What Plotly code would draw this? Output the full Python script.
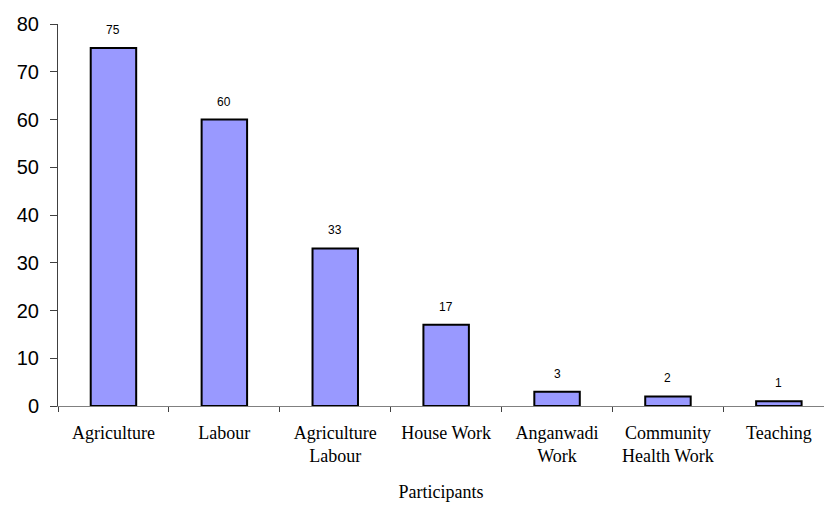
import plotly.graph_objects as go

categories = ["Agriculture", "Labour", "Agriculture<br>Labour", "House Work",
              "Anganwadi<br>Work", "Community<br>Health Work", "Teaching"]
values = [75, 60, 33, 17, 3, 2, 1]
y_ticks = [0, 10, 20, 30, 40, 50, 60, 70, 80]

fig = go.Figure()
fig.add_trace(go.Bar(
    x=categories, y=values,
    marker=dict(color="#9999FF", line=dict(color="black", width=2)),
    width=0.41,
    hoverinfo="skip",
))

for c, v in zip(categories, values):
    fig.add_annotation(x=c, y=v, text=str(v), showarrow=False,
                       yanchor="bottom", yshift=9,
                       font=dict(family="Liberation Sans, Arial", size=12, color="black"))

fig.update_layout(
    width=824, height=516,
    margin=dict(l=58, r=0, t=24, b=110),
    plot_bgcolor="white", paper_bgcolor="white",
    showlegend=False,
)
fig.update_xaxes(
    type="category",
    range=[-0.5, 6.407],
    showline=True, linecolor="#808080", linewidth=1,
    ticks="outside", ticklen=5, tickcolor="#404040", tickson="boundaries",
    ticklabelstandoff=10,
    tickfont=dict(family="Liberation Serif, Times New Roman", size=18, color="black"),
    title=dict(text="Participants", standoff=20,
               font=dict(family="Liberation Serif, Times New Roman", size=18, color="black")),
    showgrid=False, zeroline=False, fixedrange=True,
)
fig.update_yaxes(
    range=[0, 80], tickvals=y_ticks,
    showline=True, linecolor="#404040", linewidth=1,
    ticks="outside", ticklen=7, tickcolor="#404040",
    ticklabelstandoff=7,
    tickfont=dict(family="Liberation Sans, Arial", size=20, color="black"),
    showgrid=False, zeroline=False, fixedrange=True,
)

fig.write_html("out.html")
